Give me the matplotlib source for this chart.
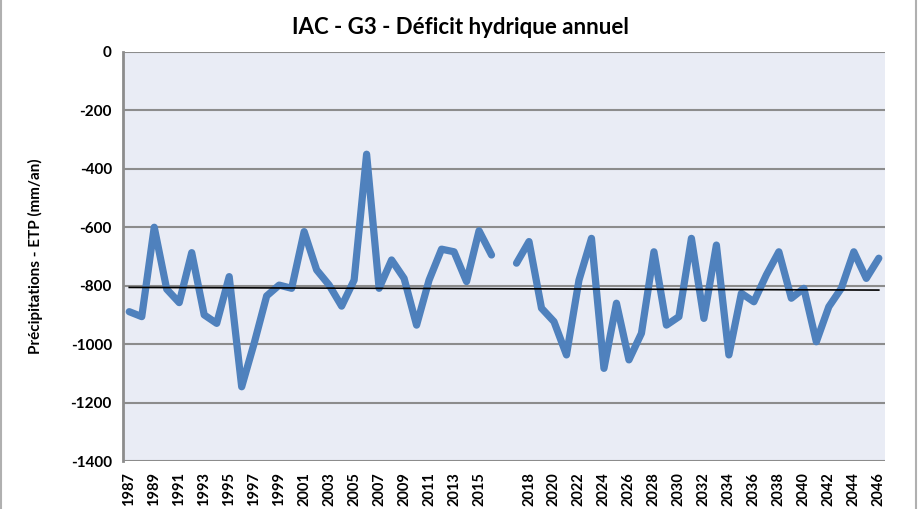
import numpy as np
import matplotlib.pyplot as plt
from matplotlib.patches import Rectangle

# Années (une catégorie vide entre 2016 et 2017)
annees = [str(a) for a in range(1987, 2017)] + [''] + [str(a) for a in range(2017, 2047)]

# Déficit hydrique (P - ETP, mm/an)
periode1 = [-889, -906, -600, -812, -858, -687, -900, -929, -769, -1146,
            -997, -835, -798, -809, -615, -746, -798, -870, -781, -350,
            -809, -712, -775, -935, -781, -675, -684, -786, -612, -695]
periode2 = [-723, -649, -877, -923, -1037, -781, -638, -1083, -860, -1054,
            -963, -684, -935, -906, -638, -912, -661, -1037, -826, -855,
            -763, -684, -843, -809, -992, -872, -809, -684, -775, -706]
valeurs = periode1 + [np.nan] + periode2

# Droite de tendance (début, fin)
tendance = [-806, -815]

plt.rcParams['font.family'] = ['Lato', 'DejaVu Sans']
plt.rcParams['axes.unicode_minus'] = False

fig = plt.figure(figsize=(9.2, 5.09), dpi=100)
ax = fig.add_axes([0.1337, 0.0943, 0.8283, 0.8037])
ax.set_facecolor('#E9ECF5')

x = np.arange(len(annees))
ax.plot(x, valeurs, color='#4F81BD', linewidth=5.2, solid_capstyle='round',
        solid_joinstyle='round', zorder=3)
ax.plot([x[0], x[-1]], tendance, color='black', linewidth=1.2, zorder=4)

ax.set_ylim(-1400, 0)
ax.set_xlim(-0.5, len(annees) - 0.5)
ax.set_yticks(np.arange(-1400, 1, 200))
ax.yaxis.grid(True, color='#8C8C8C', linewidth=1.5)
ax.set_axisbelow(True)

ax.set_xticks(x[::2])
ax.set_xticklabels(annees[::2], rotation=90, fontsize=10.5, fontweight='bold')
for lab in ax.get_yticklabels():
    lab.set_fontweight('bold')
    lab.set_fontsize(11)
ax.tick_params(length=0, pad=8)
ax.tick_params(axis='x', pad=8)

for s in ['top', 'right', 'bottom']:
    ax.spines[s].set_visible(False)
ax.spines['left'].set_color('#8C8C8C')
ax.spines['left'].set_linewidth(2)

ax.set_ylabel('Précipitations - ETP (mm/an)', fontsize=11, fontweight='bold', labelpad=20)
fig.text(0.5, 0.945, 'IAC - G3 - Déficit hydrique annuel', ha='center', va='center',
         fontsize=16, fontweight='bold')

# Cadre du graphique
fig.patches.append(Rectangle((0.001, -0.01), 0.995, 1.02, transform=fig.transFigure,
                             fill=False, edgecolor='#B0B0B0', linewidth=1.5))

fig.savefig('out.png', dpi=100)
